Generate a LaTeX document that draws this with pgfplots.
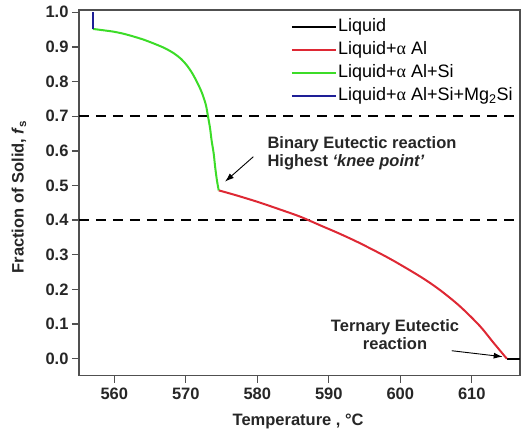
\documentclass[border=0pt]{standalone}
\usepackage{pgfplots}
\pgfplotsset{compat=1.18}
\usepackage{fontspec}
\setmainfont{Liberation Sans}
\newfontfamily\serifgreek{Liberation Serif}
\usetikzlibrary{arrows.meta}

\definecolor{liqred}{RGB}{222,40,52}
\definecolor{liqgreen}{RGB}{60,220,40}
\definecolor{liqblue}{RGB}{30,30,150}
\definecolor{axgray}{RGB}{80,80,80}

\newcommand{\al}{{\serifgreek α}}
\newcommand{\bigfont}{\fontsize{16.5bp}{19bp}\selectfont\bfseries}

\begin{document}
\begin{tikzpicture}
\begin{axis}[
    scale only axis,
    width=441bp, height=365.7bp,
    xmin=555.06, xmax=616.74,
    ymin=-0.049, ymax=1.0066,
    xtick={560,570,580,590,600,610},
    ytick={0,0.1,0.2,0.3,0.4,0.5,0.6,0.7,0.8,0.9,1.0},
    yticklabel style={/pgf/number format/.cd, fixed, fixed zerofill, precision=1},
    /pgf/number format/assume math mode=true,
    tick label style={font=\bigfont, text=black!85},
    xticklabel style={yshift=-2bp},
    tick align=outside,
    major tick length=7bp,
    xtick pos=bottom, ytick pos=left,
    axis line style={axgray, line width=1.3bp},
    every tick/.style={axgray, line width=1.3bp},
    xlabel={Temperature , °C},
    ylabel={Fraction of Solid, \textit{f}\textsubscript{s}},
    label style={font=\bigfont, text=black!85},
    xlabel style={at={(axis description cs:0.497,-0.135)}, anchor=base},
    ylabel style={at={(axis description cs:-0.136,0.489)}, anchor=center},
    legend style={at={(axis description cs:0.48,0.981)}, anchor=north west,
        draw=none, fill=none, font=\fontsize{18bp}{20bp}\selectfont,
        inner sep=0pt, row sep=4bp,
        nodes={inner sep=1bp, text height=13bp, text depth=4bp},
        /tikz/every even column/.append style={column sep=4bp}},
    legend cell align=left,
    legend image code/.code={\draw[#1, line width=2.2bp] (0bp,0bp) -- (44bp,0bp);},
    clip=false,
]
% dashed guide lines at fs = 0.7 and 0.4
\addplot[black, line width=2.5bp, dash pattern=on 10bp off 7bp, forget plot]
    coordinates {(555.06,0.7) (616.74,0.7)};
\addplot[black, line width=2.5bp, dash pattern=on 10bp off 7bp, forget plot]
    coordinates {(555.06,0.4) (616.74,0.4)};

% Liquid
\addplot[black, line width=2bp] coordinates {
    (614.9,0.0) (616.74,0.0)
};
% Liquid + alpha Al
\addplot[liqred, line width=2bp, smooth] coordinates {
    (574.6,0.486) (577.0,0.472) (580.0,0.453) (583.0,0.432) (586.0,0.410)
    (588.8,0.385) (591.5,0.361) (594.4,0.333) (598.6,0.288) (602.8,0.237)
    (605.5,0.199) (608.3,0.152) (611.1,0.095) (613.0,0.047) (614.9,0.0)
};
% Liquid + alpha Al + Si
\addplot[liqgreen, line width=2bp, smooth] coordinates {
    (557.0,0.952) (558.5,0.948) (559.9,0.944) (561.3,0.938) (562.7,0.930)
    (564.1,0.921) (565.5,0.910) (567.0,0.897) (568.3,0.882) (569.3,0.866)
    (570.1,0.848) (570.9,0.824) (571.7,0.793) (572.3,0.765) (572.8,0.733)
    (573.1,0.700) (573.4,0.664) (573.6,0.631) (573.9,0.592) (574.1,0.554)
    (574.35,0.515) (574.6,0.486)
};
% Liquid + alpha Al + Si + Mg2Si
\addplot[liqblue, line width=2bp] coordinates {
    (557.0,0.952) (557.0,1.0)
};
\legend{Liquid, Liquid+\al{} Al, Liquid+\al{} Al+Si, Liquid+\al{} Al+Si+Mg\textsubscript{2}Si}

% annotations
\node[anchor=base west, font=\bigfont, text=black!85]
    at (axis cs:580.94,0.6074) {Binary Eutectic reaction};
\node[anchor=base west, font=\bigfont, text=black!85]
    at (axis cs:580.94,0.5543) {Highest \textit{‘knee point’}};
\draw[-{Latex[length=9bp,width=6bp]}, line width=0.9bp]
    (axis cs:579.44,0.583) -- (axis cs:575.48,0.511);
\node[anchor=base, font=\bigfont, text=black!85]
    at (axis cs:599.26,0.080) {Ternary Eutectic};
\node[anchor=base, font=\bigfont, text=black!85]
    at (axis cs:599.26,0.027) {reaction};
\draw[-{Latex[length=9bp,width=6bp]}, line width=0.9bp]
    (axis cs:607.19,0.0231) -- (axis cs:614.32,0.0058);
\end{axis}
\pgfresetboundingbox
\useasboundingbox (-79bp,-54.3bp) rectangle (442bp,375.7bp);
\end{tikzpicture}
\end{document}
